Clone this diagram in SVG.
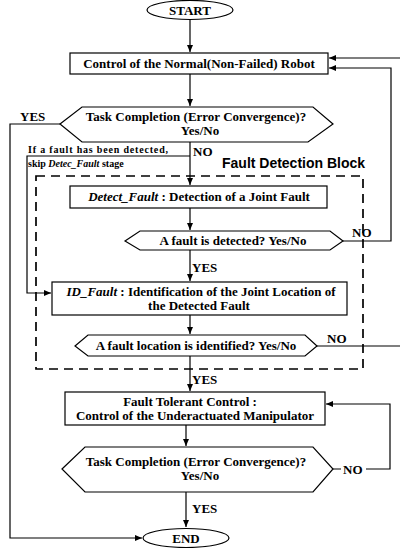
<svg xmlns="http://www.w3.org/2000/svg" width="400" height="548" viewBox="0 0 400 548">
<style>
.n{fill:#fff;stroke:#000;stroke-width:1.2}
.t{font-family:"Liberation Serif","Times New Roman",serif;font-weight:bold;font-size:13px;fill:#000}
.s{font-family:"Liberation Serif","Times New Roman",serif;font-weight:bold;font-size:10px;fill:#000}
.c{fill:none;stroke:#000;stroke-width:1.2}
.d{fill:none;stroke:#000;stroke-width:1.7;stroke-dasharray:9,6}
</style>
<defs>
<marker id="a" markerWidth="8" markerHeight="8" refX="7" refY="4" orient="auto" markerUnits="userSpaceOnUse">
<path d="M0,1 L7,4 L0,7 Z" fill="#000"/>
</marker>
</defs>
<g id="block">
<rect class="d" x="36" y="176" width="327" height="193"/>
<text x="222" y="168" font-family="Liberation Sans,Arial,sans-serif" font-weight="bold" font-size="14" textLength="143" fill="#000">Fault Detection Block</text>
</g>
<g id="connectors">
<path class="c" d="M190,20 V52" marker-end="url(#a)"/>
<path class="c" d="M190,74 V106" marker-end="url(#a)"/>
<path class="c" d="M60,124 H10 V538 H142" marker-end="url(#a)"/>
<path class="c" d="M190,142 V185" marker-end="url(#a)"/>
<path class="c" d="M190,156 H27 V293 H51" marker-end="url(#a)"/>
<path class="c" d="M190,208 V230" marker-end="url(#a)"/>
<path class="c" d="M343,241 H391 V68 H329" marker-end="url(#a)"/>
<path class="c" d="M400,58 H329" marker-end="url(#a)"/>
<path class="c" d="M190,250 V281" marker-end="url(#a)"/>
<path class="c" d="M190,315 V334" marker-end="url(#a)"/>
<path class="c" d="M317,346 H400"/>
<path class="c" d="M190,356 V391" marker-end="url(#a)"/>
<path class="c" d="M186,425 V446" marker-end="url(#a)"/>
<path class="c" d="M333,469 H341 M366,469 H390 V404 H326" marker-end="url(#a)"/>
<path class="c" d="M186,492 V527" marker-end="url(#a)"/>
<text class="t" x="20" y="121">YES</text>
<text class="t" x="193" y="156">NO</text>
<text class="s" x="28" y="153" textLength="140">If a fault has been detected,</text>
<text class="s" x="28" y="167">skip <tspan font-style="italic">Detec_Fault</tspan> stage</text>
<text class="t" x="352" y="237">NO</text>
<text class="t" x="192" y="272">YES</text>
<text class="t" x="327" y="343">NO</text>
<text class="t" x="192" y="384">YES</text>
<text class="t" x="343" y="474">NO</text>
<text class="t" x="192" y="513">YES</text>
</g>
<g id="start">
<ellipse class="n" cx="190" cy="10" rx="43" ry="9.5"/>
<text class="t" x="190" y="15" text-anchor="middle">START</text>
</g>
<g id="normal">
<rect class="n" x="70" y="53" width="258" height="21"/>
<text class="t" x="199" y="68" text-anchor="middle">Control of the Normal(Non-Failed) Robot</text>
</g>
<g id="task1">
<polygon class="n" points="60,124 82,107 313,107 333,124 308,142 82,142"/>
<text class="t" x="196" y="121" text-anchor="middle">Task Completion (Error Convergence)?</text>
<text class="t" x="200" y="135" text-anchor="middle">Yes/No</text>
</g>
<g id="detect">
<rect class="n" x="70" y="186" width="257" height="22"/>
<text class="t" x="199" y="201" text-anchor="middle"><tspan font-style="italic">Detect_Fault</tspan> : Detection of a Joint Fault</text>
</g>
<g id="detected">
<polygon class="n" points="125,241 140,231 330,231 343,241 330,250 140,250"/>
<text class="t" x="233" y="245" text-anchor="middle">A fault is detected? Yes/No</text>
</g>
<g id="identify">
<rect class="n" x="52" y="282" width="295" height="33"/>
<text class="t" x="201" y="296" text-anchor="middle"><tspan font-style="italic">ID_Fault</tspan> : Identification of the Joint Location of</text>
<text class="t" x="199" y="310" text-anchor="middle">the Detected Fault</text>
</g>
<g id="identified">
<polygon class="n" points="75,346 88,335 305,335 317,346 305,356 88,356"/>
<text class="t" x="196" y="350" text-anchor="middle">A fault location is identified? Yes/No</text>
</g>
<g id="ftc">
<rect class="n" x="65" y="392" width="260" height="33"/>
<text class="t" x="190" y="406" text-anchor="middle">Fault Tolerant Control :</text>
<text class="t" x="195" y="420" text-anchor="middle">Control of the Underactuated Manipulator</text>
</g>
<g id="task2">
<polygon class="n" points="62,469 85,447 313,447 333,469 313,492 85,492"/>
<text class="t" x="196" y="466" text-anchor="middle">Task Completion (Error Convergence)?</text>
<text class="t" x="200" y="480" text-anchor="middle">Yes/No</text>
</g>
<g id="end">
<ellipse class="n" cx="186" cy="538" rx="43" ry="9.5"/>
<text class="t" x="186" y="543" text-anchor="middle">END</text>
</g>
</svg>
